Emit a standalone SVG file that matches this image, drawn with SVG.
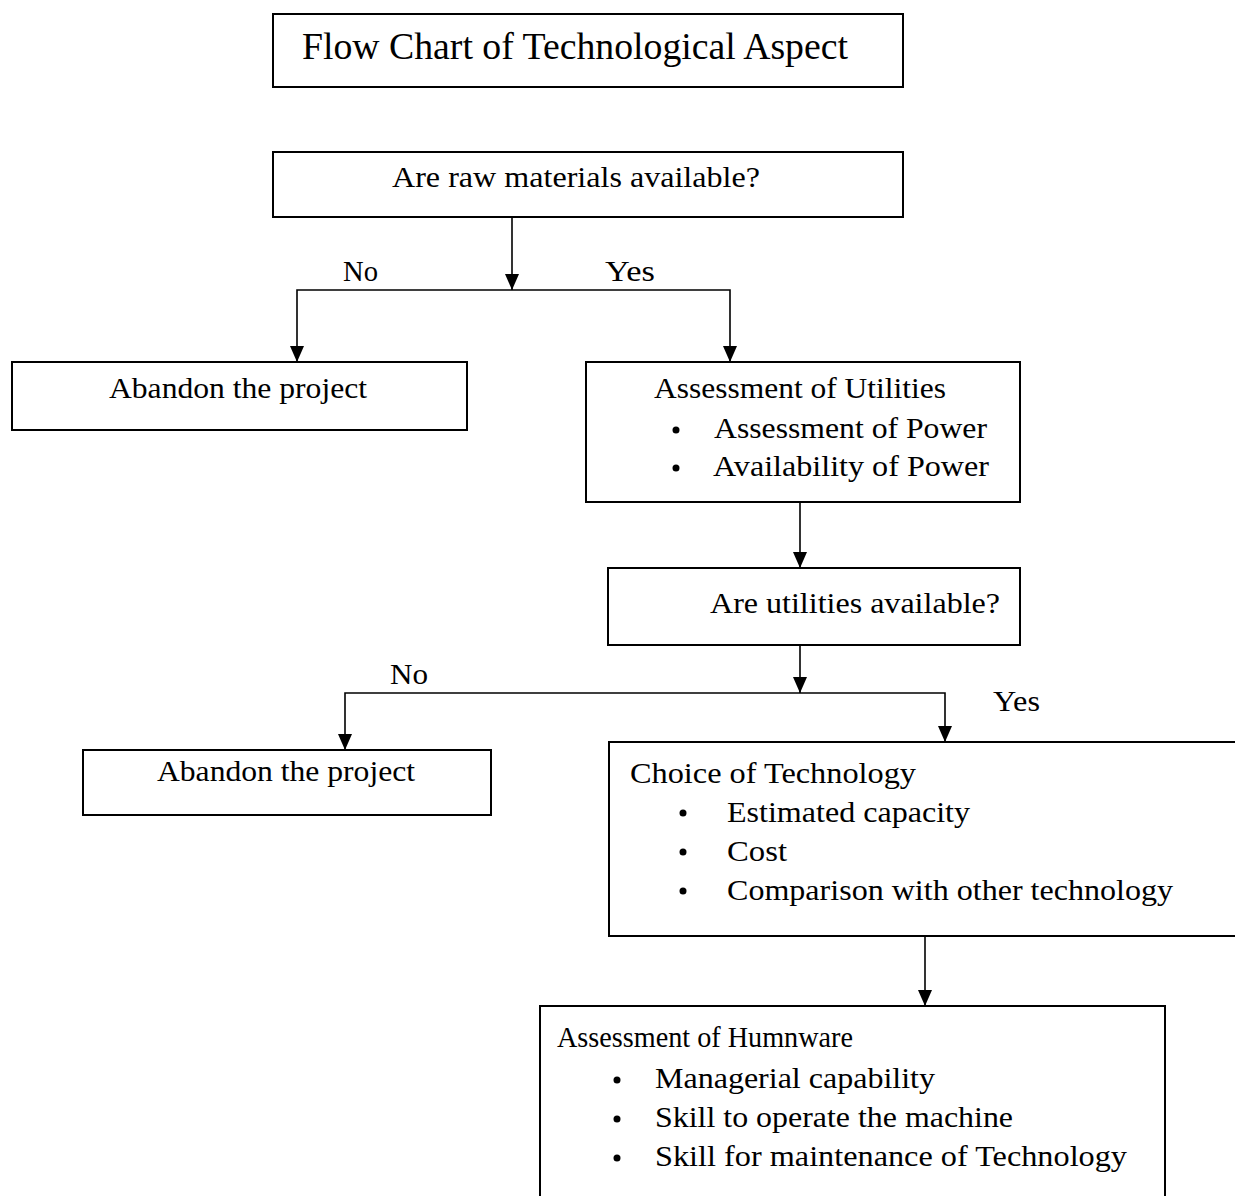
<svg xmlns="http://www.w3.org/2000/svg" width="1235" height="1196" viewBox="0 0 1235 1196">
<style>
.box{fill:#fff;stroke:#000;stroke-width:2}
.t{font-family:"Liberation Serif","Times New Roman",serif;font-size:30px;fill:#000}
.tt{font-family:"Liberation Serif","Times New Roman",serif;font-size:37px;fill:#000}
.con{fill:none;stroke:#000;stroke-width:1.6}
.dot{fill:#000}
</style>
<defs>
<marker id="ah" markerUnits="userSpaceOnUse" markerWidth="16" markerHeight="14" refX="16" refY="7" orient="auto">
<path d="M0,0 L16,7 L0,14 z" fill="#000"/>
</marker>
</defs>
<rect width="1235" height="1196" fill="#fff"/>

<g id="title">
<rect class="box" x="273" y="14" width="630" height="73"/>
<text class="tt" x="302" y="59" textLength="546" lengthAdjust="spacingAndGlyphs">Flow Chart of Technological Aspect</text>
</g>

<g id="raw">
<rect class="box" x="273" y="152" width="630" height="65"/>
<text class="t" x="392" y="187" textLength="368" lengthAdjust="spacingAndGlyphs">Are raw materials available?</text>
</g>

<g id="abandon1">
<rect class="box" x="12" y="362" width="455" height="68"/>
<text class="t" x="109" y="398" textLength="258" lengthAdjust="spacingAndGlyphs">Abandon the project</text>
</g>

<g id="utilities">
<rect class="box" x="586" y="362" width="434" height="140"/>
<text class="t" x="654" y="398" textLength="292" lengthAdjust="spacingAndGlyphs">Assessment of Utilities</text>
<circle class="dot" cx="676" cy="430" r="3.5"/>
<text class="t" x="714" y="438" textLength="273" lengthAdjust="spacingAndGlyphs">Assessment of Power</text>
<circle class="dot" cx="676" cy="468" r="3.5"/>
<text class="t" x="713" y="476" textLength="276" lengthAdjust="spacingAndGlyphs">Availability of Power</text>
</g>

<g id="utilq">
<rect class="box" x="608" y="568" width="412" height="77"/>
<text class="t" x="710" y="613" textLength="290" lengthAdjust="spacingAndGlyphs">Are utilities available?</text>
</g>

<g id="abandon2">
<rect class="box" x="83" y="750" width="408" height="65"/>
<text class="t" x="157" y="781" textLength="258" lengthAdjust="spacingAndGlyphs">Abandon the project</text>
</g>

<g id="choice">
<rect class="box" x="609" y="742" width="640" height="194"/>
<text class="t" x="630" y="783" textLength="286" lengthAdjust="spacingAndGlyphs">Choice of Technology</text>
<circle class="dot" cx="683" cy="813" r="3.5"/>
<text class="t" x="727" y="822" textLength="243" lengthAdjust="spacingAndGlyphs">Estimated capacity</text>
<circle class="dot" cx="683" cy="852" r="3.5"/>
<text class="t" x="727" y="861" textLength="60" lengthAdjust="spacingAndGlyphs">Cost</text>
<circle class="dot" cx="683" cy="891" r="3.5"/>
<text class="t" x="727" y="900" textLength="446" lengthAdjust="spacingAndGlyphs">Comparison with other technology</text>
</g>

<g id="humnware">
<rect class="box" x="540" y="1006" width="625" height="210"/>
<text class="t" x="557" y="1047" textLength="296" lengthAdjust="spacingAndGlyphs">Assessment of Humnware</text>
<circle class="dot" cx="617" cy="1080" r="3.5"/>
<text class="t" x="655" y="1088" textLength="280" lengthAdjust="spacingAndGlyphs">Managerial capability</text>
<circle class="dot" cx="617" cy="1119" r="3.5"/>
<text class="t" x="655" y="1127" textLength="358" lengthAdjust="spacingAndGlyphs">Skill to operate the machine</text>
<circle class="dot" cx="617" cy="1158" r="3.5"/>
<text class="t" x="655" y="1166" textLength="472" lengthAdjust="spacingAndGlyphs">Skill for maintenance of Technology</text>
</g>

<g id="connectors">
<path class="con" d="M512,217 V290" marker-end="url(#ah)"/>
<path class="con" d="M512,290 H297 V362" marker-end="url(#ah)"/>
<path class="con" d="M512,290 H730 V362" marker-end="url(#ah)"/>
<path class="con" d="M800,502 V568" marker-end="url(#ah)"/>
<path class="con" d="M800,645 V693" marker-end="url(#ah)"/>
<path class="con" d="M800,693 H345 V750" marker-end="url(#ah)"/>
<path class="con" d="M800,693 H945 V742" marker-end="url(#ah)"/>
<path class="con" d="M925,936 V1006" marker-end="url(#ah)"/>
<text class="t" x="343" y="281" textLength="35" lengthAdjust="spacingAndGlyphs">No</text>
<text class="t" x="605" y="281" textLength="50" lengthAdjust="spacingAndGlyphs">Yes</text>
<text class="t" x="390" y="684" textLength="38" lengthAdjust="spacingAndGlyphs">No</text>
<text class="t" x="993" y="711" textLength="47" lengthAdjust="spacingAndGlyphs">Yes</text>
</g>
</svg>
